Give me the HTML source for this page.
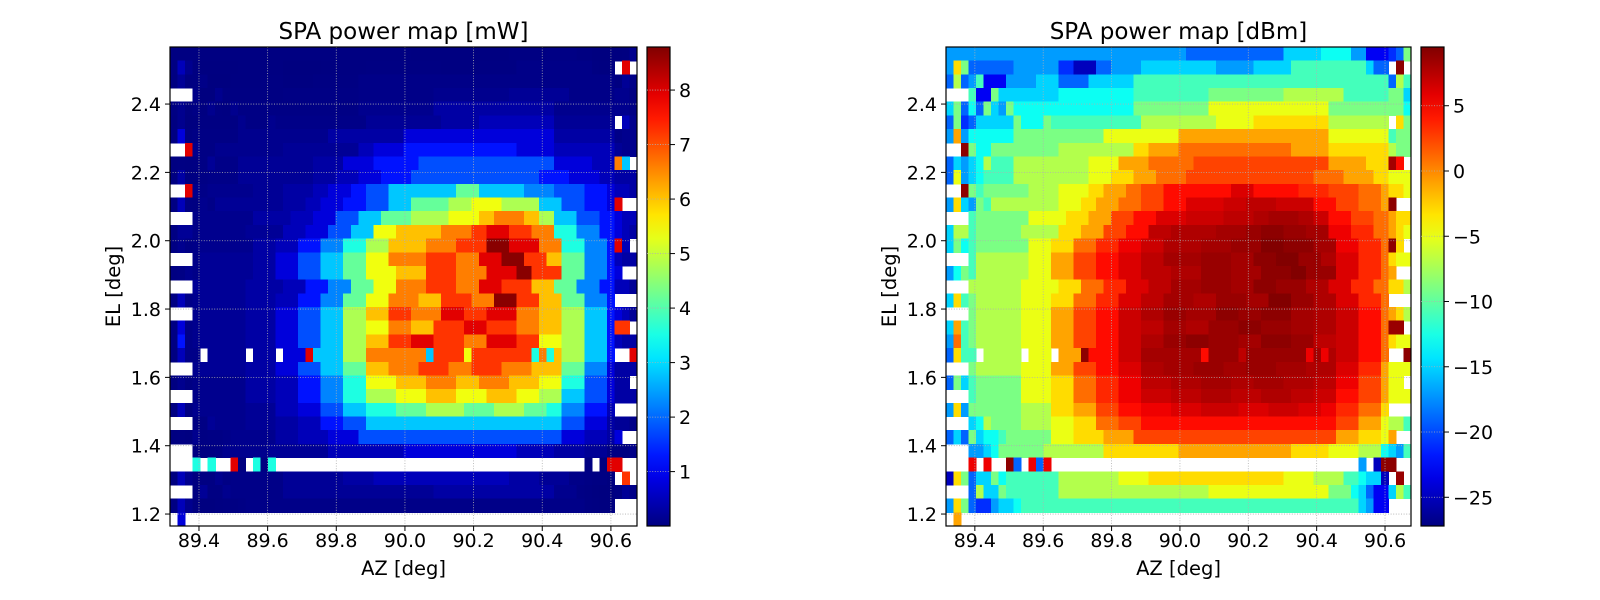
<!DOCTYPE html>
<html><head><meta charset="utf-8"><title>SPA power map</title>
<style>
html,body{margin:0;padding:0;background:#fff;}
svg{display:block;font-family:"DejaVu Sans","Liberation Sans",sans-serif;}
</style></head>
<body>
<svg id="fig" width="1600" height="600" viewBox="0 0 1600 600" xmlns="http://www.w3.org/2000/svg">
<defs>
<linearGradient id="jetGrad" x1="0" y1="1" x2="0" y2="0"></linearGradient>
</defs>
<rect x="0" y="0" width="1600" height="600" fill="#ffffff"/>
<g id="left"></g>
<g id="right"></g>
</svg>
<script>
// ---- data: dBm level codes per cell, run-length encoded rows (top row = highest EL) ----
const levelChars = "0123456789abcdefghijklmnopq";
const levelDbm = [-27,-25,-23,-21,-19,-17,-15,-13,-11,-9,-7,-5,-3,-1,1,2.5,3.5,4.5,5.5,6.2,6.8,7.3,7.8,8.2,8.6,9.0,9.4];
const rows = [
"5:32 4:13 6:5 7:4 5:2 2:3 3 4 9",
"5 c 9 4:6 5:6 3:2 1:3 4:2 5:4 6:10 5:5 6:5 8:10 6 4:2 . p .",
"4 a 4 5 8 2:3 5:4 6:3 4:4 6:6 8:34 4 a 8",
".:3 8 2:2 9 6:8 7:10 8:10 9:10 a:8 8:6 9:2 6",
"6 9 4 7 4 9 6 5 9 7:16 9:10 b:16 9:8 9 9 7",
"4 9 3 4 6:5 9 7:3 9 8:12 a:10 b:5 c:10 a:8 . c 9",
"5 d 5 7:6 9:12 b:10 d:20 b:8 8 9 9",
".:2 p 9 7:2 9:9 a:10 c:2 d:4 e:15 d:5 c:8 a 9 9",
"4 6 5 6 7 a 8:3 a:10 b:4 d:4 e:6 f:18 d:5 c:3 n h .",
"4 b 5 6 7 8:4 a:10 b:3 c:3 d:3 e:4 f:17 e:4 d:4 c:2 b b b",
".:2 p 9 8 9:6 a:4 b:4 c:2 d:3 e:2 f:3 h:9 j:3 h:6 g:4 f:4 e:3 d c c b",
"5 c 6 5 9 8 a:9 b:3 c:2 d:3 e:3 f:3 h:3 j:5 k:3 l:4 k:5 h:3 f:3 e:3 d p . .",
".:3 8 9:7 b:5 c:3 d:3 f:3 h:3 j:4 k:5 l:4 m:2 n:4 m:2 k:2 h:3 f:3 e:2 d c c",
"6 a a 8 9:6 a:5 c:3 d:3 f:3 h:3 l:3 m:6 n:4 o:2 p:3 o:3 n:3 i:3 g:3 e:2 d c b",
"6 9 7 8 9:7 b:3 c:3 e:3 g:3 i:3 k:3 m:5 n:4 o:4 q:3 p:4 n:3 i:3 g:3 e p c .",
".:3 8 a:7 b:3 d:3 f:3 h:3 j:3 l:3 n:5 o:4 n:3 p:3 q:3 o:3 m:2 j:3 g:3 e c b b",
"5 7 9 8 a:7 b:3 d:3 f:3 h:3 j:3 l:4 m:4 o:4 n:4 p:4 q:2 o:4 j:3 g:3 e d . .",
".:3 a a:6 b:5 c:3 e:3 g:3 j:3 l:3 n:4 o:4 n:3 p:3 o:4 m:3 j:3 g:3 e:2 c c a",
"6 c 8 9 a:6 b:4 c:3 e:3 g:3 j:3 l:3 n:4 m:3 o:4 n:3 q:3 o:3 m:3 j:3 g:3 e . . .",
".:3 9 a:6 b:4 d:3 f:3 h:3 k:3 m:3 o:3 n:4 p:3 o:3 p:4 n:3 m:3 k:3 h:3 e d c a",
"6 d 8 9 a:6 b:4 d:3 f:3 h:3 k:3 l:3 n:3 m:3 o:4 p:3 o:4 n:3 m:3 k:3 h:3 e o o .",
"5 e 8 9 a:6 b:4 d:3 f:3 h:3 k:3 m:3 o:3 p:3 o:4 n:3 p:4 o:3 l:3 k:3 h:3 e c b b",
"4 c 8 8 . a:5 . b:3 . d:3 p h:4 k:3 n:8 h o:4 l o:8 i n i m k:3 h:3 e . . p",
".:3 9 a:6 b:4 d:3 f:3 h:3 j:3 m:3 n:4 o:4 n:3 o:4 n:4 m:4 j:3 g:3 d b b b",
"4 9 6 8 9:6 b:4 c:3 e:3 g:3 i:3 l:4 m:4 n:4 m:3 n:4 m:4 l:3 i:3 f:3 d b b .",
".:3 8 9:6 b:4 c:3 e:3 g:3 i:3 k:4 l:4 m:4 l:4 m:4 l:3 k:3 h:3 f:3 d b b b",
"5 c 5 9 9:6 a:4 c:3 d:3 f:3 h:3 i:4 j:4 k:5 j:4 k:4 j:3 i:2 g:3 e:3 c . . .",
".:3 6 7 a 9:4 a:4 b:3 c:3 e:3 f:3 h:26 f:3 d:3 b a a 8",
"4 6 4 9 6 7:2 8 9:6 b:3 c:4 d:4 f:27 d:3 c:3 b d . .",
".:3 5:2 6 7 9:6 a:8 c:10 d:15 c:5 b:4 a:3 7 6 5 8",
".:3 i . i .:2 p 4 . i 4 i .:41 5 . 1 p:2 .:2",
"1 c 9 4 6:2 9 7 8:7 a:8 b:4 c:18 b:4 a:4 8:2 7 6 6 1 . o .",
".:3 4 a 6 6 9 8 8:6 a:20 b:16 9:3 7 6 4 2 2 6 a 8",
"5 c 9 4 3:2 5 6:2 7 8:45 6 5 2:2 . . .",
". d .:60"
];
const xTicks = [89.4, 89.6, 89.8, 90.0, 90.2, 90.4, 90.6];
const xTickLabels = ["89.4","89.6","89.8","90.0","90.2","90.4","90.6"];
const yTicks = [1.2, 1.4, 1.6, 1.8, 2.0, 2.2, 2.4];
const yTickLabels = ["1.2","1.4","1.6","1.8","2.0","2.2","2.4"];
const mwTicks = [1,2,3,4,5,6,7,8];
const mwTickLabels = ["1","2","3","4","5","6","7","8"];
const dbmTicks = [-25,-20,-15,-10,-5,0,5];
const dbmTickLabels = ["\u221225","\u221220","\u221215","\u221210","\u22125","0","5"];

const AZ_MIN = 89.3156, AZ_MAX = 90.676, EL_MIN = 1.165, EL_MAX = 2.567;
const NCOL = 62;
const MW_MIN = 0.002, MW_MAX = 8.79, DB_MIN = -27.2, DB_MAX = 9.5;

const NS = "http://www.w3.org/2000/svg";
function mk(tag, attrs, parent){
  const e = document.createElementNS(NS, tag);
  for (const k in attrs) e.setAttribute(k, attrs[k]);
  parent.appendChild(e);
  return e;
}
function clamp(v){return Math.max(0, Math.min(1, v));}
function jet(t){
  t = clamp(t);
  const r = clamp(1.5 - Math.abs(4*t - 3));
  const g = clamp(1.5 - Math.abs(4*t - 2));
  const b = clamp(1.5 - Math.abs(4*t - 1));
  return "rgb(" + Math.round(r*255) + "," + Math.round(g*255) + "," + Math.round(b*255) + ")";
}
function decodeRow(s){
  const out = [];
  s.trim().split(/\s+/).forEach(tok => {
    const ch = tok[0];
    const n = tok.length > 2 ? parseInt(tok.slice(2)) : 1;
    for (let i = 0; i < n; i++) out.push(ch);
  });
  while (out.length < NCOL) out.push(".");
  return out.slice(0, NCOL).map(ch => { const i = levelChars.indexOf(ch); return i < 0 ? null : levelDbm[i]; });
}
const grid = rows.map(decodeRow);
const NROW = grid.length;

// gradient
const gr = document.getElementById("jetGrad");
for (let i = 0; i <= 20; i++) { mk("stop", {offset: (i/20), "stop-color": jet(i/20)}, gr); }

function panel(g, cfg){
  const {x0, x1, y0, y1, cbx, cbw, title, isDb} = cfg;
  const xs = az => x0 + (az - AZ_MIN) / (AZ_MAX - AZ_MIN) * (x1 - x0);
  const ys = el => y1 - (el - EL_MIN) / (EL_MAX - EL_MIN) * (y1 - y0);
  const azStep = (AZ_MAX - AZ_MIN) / NCOL;
  const elStep = (EL_MAX - EL_MIN) / NROW;
  const cells = mk("g", {"shape-rendering": "crispEdges"}, g);
  
  
  for (let r = 0; r < NROW; r++) {
    for (let c = 0; c < NCOL; c++) {
      const d = grid[r][c];
      if (d === null) continue;
      const v = isDb ? d : Math.pow(10, d/10);
      const t = isDb ? (v - DB_MIN)/(DB_MAX - DB_MIN) : (v - MW_MIN)/(MW_MAX - MW_MIN);
      const xa = xs(AZ_MIN + c*azStep), xb = xs(AZ_MIN + (c+1)*azStep);
      const ya = ys(EL_MAX - r*elStep), yb = ys(EL_MAX - (r+1)*elStep);
      const rc = mk("rect", {x: xa.toFixed(2), y: ya.toFixed(2), width: (xb-xa+0.6).toFixed(2), height: (yb-ya+0.6).toFixed(2), fill: jet(t)}, cells);
      
      
    }
  }
  // grid
  const grd = mk("g", {stroke: "#b0b0b0", "stroke-width": 0.8, "stroke-dasharray": "1,1.6"}, g);
  
  
  xTicks.forEach(t => { mk("line", {x1: xs(t), x2: xs(t), y1: y0, y2: y1}, grd); });
  yTicks.forEach(t => { mk("line", {x1: x0, x2: x1, y1: ys(t), y2: ys(t)}, grd); });
  const fr = mk("rect", {x: x0, y: y0, width: x1-x0, height: y1-y0, fill: "none", stroke: "#000", "stroke-width": 1.2}, g);
  
  
  // x ticks
  xTicks.forEach((t, i) => {
    mk("line", {x1: xs(t), x2: xs(t), y1: y1, y2: y1+5, stroke: "#000", "stroke-width": 1}, g);
    const tx = mk("text", {x: xs(t), y: y1+21, "font-size": 19, "text-anchor": "middle", fill: "#000"}, g);
    tx.textContent = xTickLabels[i];
    
    
  });
  yTicks.forEach((t, i) => {
    mk("line", {x1: x0-5, x2: x0, y1: ys(t), y2: ys(t), stroke: "#000", "stroke-width": 1}, g);
    const tx = mk("text", {x: x0-9, y: ys(t)+7, "font-size": 19, "text-anchor": "end", fill: "#000"}, g);
    tx.textContent = yTickLabels[i];
    
    
  });
  const xl = mk("text", {x: (x0+x1)/2, y: y1+49, "font-size": 19.5, "text-anchor": "middle", fill: "#000"}, g);
  xl.textContent = "AZ [deg]";
  
  
  const yl = mk("text", {x: 0, y: 0, "font-size": 19.5, "text-anchor": "middle", fill: "#000", transform: "translate(" + (x0-50) + "," + ((y0+y1)/2) + ") rotate(-90)"}, g);
  yl.textContent = "EL [deg]";
  
  
  const ti = mk("text", {x: (x0+x1)/2, y: y0-8, "font-size": 23, "text-anchor": "middle", fill: "#000"}, g);
  ti.textContent = title;
  
  
  // colorbar
  const cb = mk("rect", {x: cbx, y: y0, width: cbw, height: y1-y0, fill: "url(#jetGrad)", stroke: "#000", "stroke-width": 1.2}, g);
  
  
  const ticks = isDb ? dbmTicks : mwTicks;
  const labs = isDb ? dbmTickLabels : mwTickLabels;
  const vmin = isDb ? DB_MIN : MW_MIN, vmax = isDb ? DB_MAX : MW_MAX;
  ticks.forEach((t, i) => {
    const y = y1 - (t - vmin)/(vmax - vmin)*(y1 - y0);
    mk("line", {x1: cbx, x2: cbx+cbw, y1: y, y2: y, stroke: "#b0b0b0", "stroke-width": 0.8, "stroke-dasharray": "1,1.6"}, g);
    mk("line", {x1: cbx+cbw, x2: cbx+cbw+5, y1: y, y2: y, stroke: "#000", "stroke-width": 1}, g);
    const tx = mk("text", {x: cbx+cbw+9, y: y+7, "font-size": 19, fill: "#000"}, g);
    tx.textContent = labs[i];
    
    
  });
}
panel(document.getElementById("left"), {x0:170, x1:637, y0:47, y1:526, cbx:647, cbw:23, title:"SPA power map [mW]", isDb:false});
panel(document.getElementById("right"), {x0:946, x1:1411, y0:47, y1:526, cbx:1421, cbw:23, title:"SPA power map [dBm]", isDb:true});
</script>
</body></html>
